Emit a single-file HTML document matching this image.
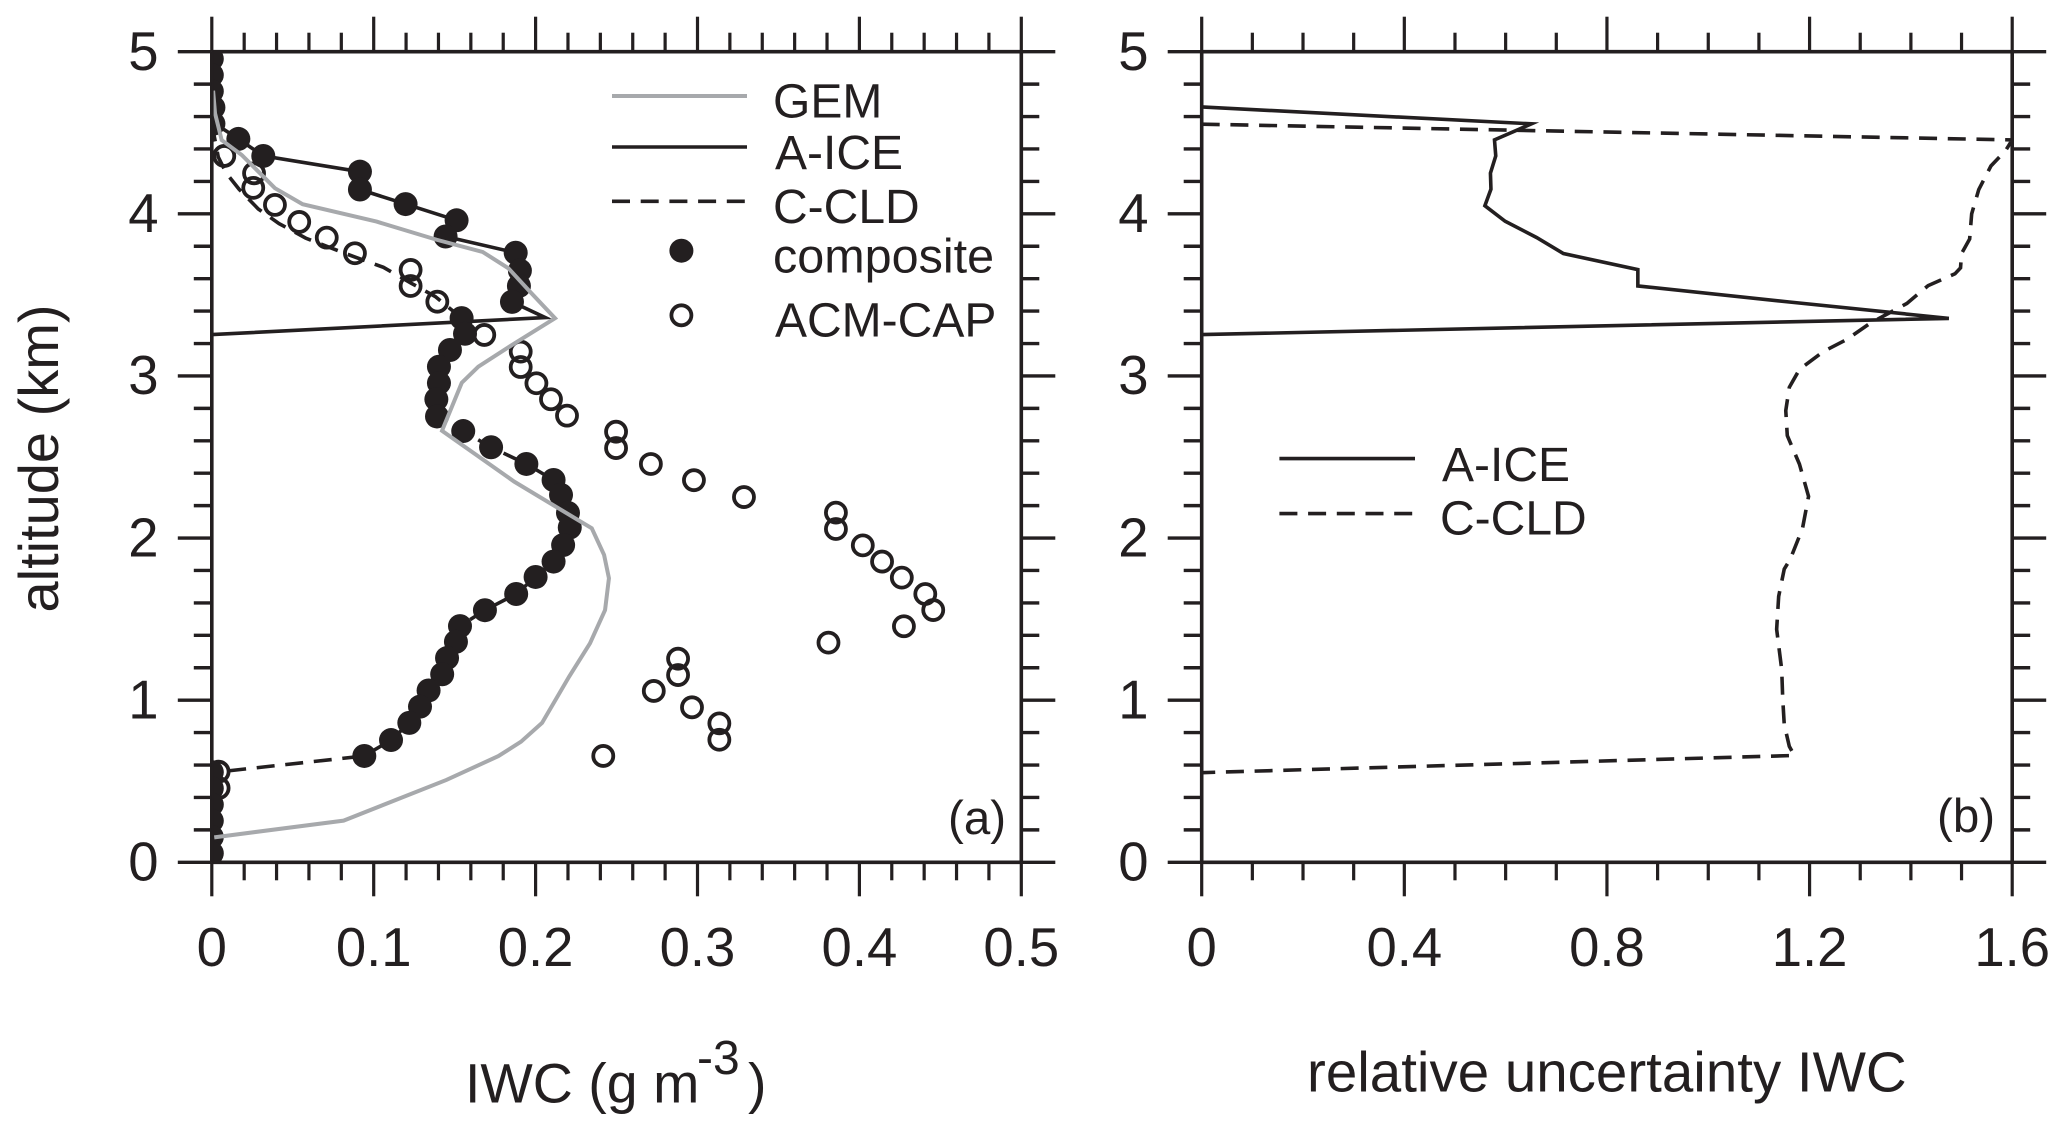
<!DOCTYPE html>
<html lang="en">
<head>
<meta charset="utf-8">
<title>IWC profiles and relative uncertainty</title>
<style>
  html, body { margin: 0; padding: 0; background: #fff; }
  svg { display: block; }
  text { font-family: "Liberation Sans", Arial, sans-serif; fill: #231f20; }
</style>
</head>
<body>
<svg id="chart" xmlns="http://www.w3.org/2000/svg" width="2067" height="1133" viewBox="0 0 2067 1133">
  <defs>
    <clipPath id="clip-a"><rect x="211.8" y="51.7" width="809.5" height="810.6"/></clipPath>
    <clipPath id="clip-b"><rect x="1201.7" y="51.7" width="810.5" height="810.6"/></clipPath>
  </defs>
  <rect width="2067" height="1133" fill="#fff"/>

  <g id="panel-a">
    <g id="series-a" clip-path="url(#clip-a)"></g>
    <g id="axes-a"></g>
    <text transform="translate(58,612.5) rotate(-90)" font-size="56">altitude (km)</text>
    <text x="465" y="1102.5" font-size="55.5">IWC (g m</text>
    <text x="697" y="1074" font-size="48">-3</text>
    <text x="748" y="1102.5" font-size="55.5">)</text>
    <text x="948" y="834" font-size="47.5">(a)</text>
    <g>
      <g>
        <line x1="612" y1="96" x2="747" y2="96" stroke="#a7a9ac" stroke-width="4"/>
        <text x="773" y="117.5" font-size="48">GEM</text>
      </g>
      <g>
        <line x1="612" y1="147" x2="747" y2="147" stroke="#231f20" stroke-width="3.6"/>
        <text x="775" y="169" font-size="48">A-ICE</text>
      </g>
      <g>
        <line x1="612" y1="201.3" x2="747" y2="201.3" stroke="#231f20" stroke-width="3.6" stroke-dasharray="18 10.7"/>
        <text x="773" y="223" font-size="48">C-CLD</text>
      </g>
      <g>
        <circle cx="681.4" cy="250.7" r="12" fill="#231f20"/>
        <text x="773" y="272.7" font-size="48.5">composite</text>
      </g>
      <g>
        <circle cx="681.4" cy="315.3" r="10" fill="none" stroke="#231f20" stroke-width="3.8"/>
        <text x="775" y="336.7" font-size="48">ACM-CAP</text>
      </g>
    </g>
  </g>

  <g id="panel-b">
    <g id="series-b" clip-path="url(#clip-b)"></g>
    <g id="axes-b"></g>
    <text x="1307" y="1091.5" font-size="56.5">relative uncertainty IWC</text>
    <text x="1937" y="832" font-size="47.5">(b)</text>
    <g>
      <g>
        <line x1="1279.4" y1="458.6" x2="1415" y2="458.6" stroke="#231f20" stroke-width="3.6"/>
        <text x="1442" y="481" font-size="48">A-ICE</text>
      </g>
      <g>
        <line x1="1279.4" y1="513.6" x2="1413" y2="513.6" stroke="#231f20" stroke-width="3.6" stroke-dasharray="18 10.7"/>
        <text x="1440" y="534.6" font-size="48">C-CLD</text>
      </g>
    </g>
  </g>
</svg>

<script>
// ---- axis values ----
const altTicks = [0, 1, 2, 3, 4, 5];
const altTickLabels = ['0', '1', '2', '3', '4', '5'];
const altMinorTicks = [0.2, 0.4, 0.6, 0.8, 1.2, 1.4, 1.6, 1.8, 2.2, 2.4, 2.6, 2.8, 3.2, 3.4, 3.6, 3.8, 4.2, 4.4, 4.6, 4.8];
const iwcTicks = [0, 0.1, 0.2, 0.3, 0.4, 0.5];
const iwcTickLabels = ['0', '0.1', '0.2', '0.3', '0.4', '0.5'];
const iwcMinorTicks = [0.02, 0.04, 0.06, 0.08, 0.12, 0.14, 0.16, 0.18, 0.22, 0.24, 0.26, 0.28, 0.32, 0.34, 0.36, 0.38, 0.42, 0.44, 0.46, 0.48];
const uncTicks = [0, 0.4, 0.8, 1.2, 1.6];
const uncTickLabels = ['0', '0.4', '0.8', '1.2', '1.6'];
const uncMinorTicks = [0.1, 0.2, 0.3, 0.5, 0.6, 0.7, 0.9, 1.0, 1.1, 1.3, 1.4, 1.5];

// ---- panel (a) series ----
const compositeAlt = [4.956, 4.856, 4.756, 4.656, 4.556, 4.462, 4.357, 4.26, 4.15, 4.06, 3.96, 3.86, 3.76, 3.65, 3.555, 3.457, 3.357, 3.26, 3.16, 3.057, 2.956, 2.856, 2.75, 2.66, 2.56, 2.457, 2.358, 2.266, 2.155, 2.065, 1.957, 1.855, 1.76, 1.655, 1.555, 1.457, 1.36, 1.26, 1.16, 1.06, 0.96, 0.86, 0.754, 0.656, 0.556, 0.456, 0.356, 0.256, 0.156, 0.056];
const compositeIwc = [0, 0, 0, 0.001, 0.001, 0.0164, 0.0318, 0.0915, 0.0915, 0.1197, 0.1512, 0.1444, 0.1877, 0.1903, 0.1897, 0.1854, 0.1543, 0.1564, 0.1471, 0.1403, 0.1403, 0.1387, 0.1391, 0.1553, 0.1725, 0.1943, 0.2111, 0.2157, 0.22, 0.2211, 0.217, 0.2111, 0.2, 0.188, 0.1687, 0.1533, 0.1508, 0.1453, 0.1423, 0.1339, 0.1286, 0.122, 0.1107, 0.0942, 0, 0, 0, 0, 0, 0];

const acmCapAlt = [4.357, 4.25, 4.16, 4.055, 3.95, 3.853, 3.757, 3.654, 3.555, 3.458, 3.253, 3.15, 3.055, 2.955, 2.856, 2.755, 2.656, 2.555, 2.457, 2.357, 2.253, 2.157, 2.056, 1.955, 1.855, 1.756, 1.655, 1.556, 1.456, 1.355, 1.256, 1.155, 1.057, 0.956, 0.857, 0.756, 0.656, 0.559, 0.458];
const acmCapIwc = [0.0077, 0.0261, 0.0256, 0.039, 0.054, 0.071, 0.0884, 0.1228, 0.1228, 0.1393, 0.1683, 0.1908, 0.1908, 0.2005, 0.2095, 0.2194, 0.2497, 0.2497, 0.2712, 0.2978, 0.3287, 0.3855, 0.3855, 0.4021, 0.414, 0.4262, 0.4407, 0.4456, 0.4275, 0.3809, 0.288, 0.288, 0.273, 0.2966, 0.3135, 0.3135, 0.2418, 0.0042, 0.0042];

const aIceAlt = [3.255, 3.36, 3.457, 3.555, 3.65, 3.76, 3.86, 3.96, 4.06, 4.15, 4.26, 4.357, 4.462, 4.556, 4.656];
const aIceIwc = [0, 0.206, 0.1854, 0.1897, 0.1903, 0.1877, 0.1444, 0.1512, 0.1197, 0.0915, 0.0915, 0.0318, 0.0164, 0.002, 0];

const cCldAlt = [4.556, 4.35, 4.25, 4.15, 4.03, 3.94, 3.85, 3.757, 3.67, 3.57, 3.49, 3.357, 3.26, 3.16, 3.057, 2.956, 2.856, 2.75, 2.66, 2.56, 2.457, 2.358, 2.266, 2.155, 2.065, 1.957, 1.855, 1.76, 1.655, 1.555, 1.457, 1.36, 1.26, 1.16, 1.06, 0.96, 0.86, 0.754, 0.656, 0.553];
const cCldIwc = [0, 0.004, 0.009, 0.017, 0.0287, 0.0415, 0.058, 0.082, 0.106, 0.1235, 0.138, 0.1543, 0.1564, 0.1471, 0.1403, 0.1403, 0.1387, 0.1391, 0.1553, 0.1725, 0.1943, 0.2111, 0.2157, 0.22, 0.2211, 0.217, 0.2111, 0.2, 0.188, 0.1687, 0.1533, 0.1508, 0.1453, 0.1423, 0.1339, 0.1286, 0.122, 0.1107, 0.0942, 0];

const gemAlt = [4.76, 4.62, 4.455, 4.363, 4.158, 4.059, 3.952, 3.84, 3.765, 3.664, 3.52, 3.356, 3.203, 3.057, 2.958, 2.662, 2.348, 2.06, 1.896, 1.752, 1.556, 1.351, 1.145, 0.86, 0.744, 0.655, 0.508, 0.257, 0.154];
const gemIwc = [0.0008, 0.002, 0.0061, 0.0185, 0.039, 0.0561, 0.1018, 0.1389, 0.1673, 0.1832, 0.1965, 0.212, 0.1873, 0.1646, 0.1544, 0.1422, 0.1868, 0.2347, 0.2423, 0.2453, 0.2429, 0.2336, 0.2207, 0.204, 0.191, 0.177, 0.1449, 0.0814, 0.0015];

// ---- panel (b) series ----
const uncAIceAlt = [4.659, 4.555, 4.456, 4.357, 4.251, 4.152, 4.05, 3.954, 3.854, 3.755, 3.656, 3.555, 3.456, 3.355, 3.255];
const uncAIceVal = [0, 0.651, 0.578, 0.5805, 0.57, 0.571, 0.559, 0.599, 0.661, 0.714, 0.861, 0.861, 1.16, 1.475, 0];

const uncCCldAlt = [4.553, 4.456, 4.39, 4.295, 4.15, 4.0, 3.845, 3.755, 3.667, 3.63, 3.557, 3.447, 3.326, 3.226, 3.15, 3.04, 2.93, 2.786, 2.632, 2.456, 2.257, 2.059, 1.871, 1.809, 1.64, 1.437, 1.189, 1.008, 0.85, 0.715, 0.659, 0.553];
const uncCCldVal = [0, 1.6, 1.587, 1.558, 1.534, 1.52, 1.516, 1.5, 1.498, 1.487, 1.434, 1.392, 1.32, 1.274, 1.227, 1.18, 1.16, 1.153, 1.156, 1.18, 1.198, 1.186, 1.162, 1.15, 1.139, 1.135, 1.145, 1.147, 1.15, 1.16, 1.17, 0];

// ---- scales ----
const INK = '#231f20';
const yTop = 51.7, yBottom = 862.3;
const xA0 = 211.8, xA1 = 1021.3;
const xB0 = 1201.7, xB1 = 2012.2;
function yAlt(a) { return yBottom - (a / 5) * (yBottom - yTop); }
function xIwc(v) { return xA0 + (v / 0.5) * (xA1 - xA0); }
function xUnc(v) { return xB0 + (v / 1.6) * (xB1 - xB0); }

const SVGNS = 'http://www.w3.org/2000/svg';
function make(tag, parent) {
  const node = document.createElementNS(SVGNS, tag);
  parent.appendChild(node);
  return node;
}
function rule(parent, x1, y1, x2, y2, w) {
  const l = make('line', parent);
  l.setAttribute('x1', x1);
  l.setAttribute('y1', y1);
  l.setAttribute('x2', x2);
  l.setAttribute('y2', y2);
  l.setAttribute('stroke', INK);
  l.setAttribute('stroke-width', w);
  return l;
}
function profile(parent, xs, alts, xScale, color, width, dash) {
  const p = make('polyline', parent);
  p.setAttribute('points', xs.map(function (v, i) { return xScale(v).toFixed(2) + ',' + yAlt(alts[i]).toFixed(2); }).join(' '));
  p.setAttribute('fill', 'none');
  p.setAttribute('stroke', color);
  p.setAttribute('stroke-width', width);
  p.setAttribute('stroke-linejoin', 'miter');
  p.setAttribute('stroke-miterlimit', '12');
  if (dash) p.setAttribute('stroke-dasharray', dash);
  return p;
}

function drawAxes(group, x0, x1, xScale, xTicks, xLabels, xMinor, yLabelX, prefix) {
  const frame = rule(group, x0, yTop, x1, yTop, 3.6);
  
  
  const frameB = rule(group, x0, yBottom, x1, yBottom, 3.6);
  
  
  const frameL = rule(group, x0, yTop, x0, yBottom, 3.6);
  
  
  const frameR = rule(group, x1, yTop, x1, yBottom, 3.6);
  
  

  xTicks.forEach(function (v, i) {
    const x = xScale(v);
    const up = rule(group, x, yTop - 35, x, yTop, 3.2);
    
    
    const down = rule(group, x, yBottom, x, yBottom + 34, 3.2);
    
    
    const label = make('text', group);
    
    
    label.setAttribute('x', x);
    label.setAttribute('y', 966);
    label.setAttribute('font-size', '54.5');
    label.setAttribute('text-anchor', 'middle');
    label.textContent = xLabels[i];
  });
  xMinor.forEach(function (v) {
    const x = xScale(v);
    const up = rule(group, x, yTop - 19, x, yTop, 3.2);
    
    
    const down = rule(group, x, yBottom, x, yBottom + 18, 3.2);
    
    
  });
  altTicks.forEach(function (a, i) {
    const y = yAlt(a);
    const l = rule(group, x0 - 34, y, x0, y, 3.4);
    
    
    const r = rule(group, x1, y, x1 + 34, y, 3.4);
    
    
    const label = make('text', group);
    
    
    label.setAttribute('x', yLabelX);
    label.setAttribute('y', y + 18.3);
    label.setAttribute('font-size', '54.5');
    label.setAttribute('text-anchor', 'end');
    label.textContent = altTickLabels[i];
  });
  altMinorTicks.forEach(function (a) {
    const y = yAlt(a);
    const l = rule(group, x0 - 18, y, x0, y, 3.4);
    
    
    const r = rule(group, x1, y, x1 + 18, y, 3.4);
    
    
  });
}

// ---- panel (a) ----
const seriesA = document.getElementById('series-a');
const lineAIce = profile(seriesA, aIceIwc, aIceAlt, xIwc, INK, 3.6);


const lineCCld = profile(seriesA, cCldIwc, cCldAlt, xIwc, INK, 3.6, '18 10.7');



acmCapIwc.forEach(function (v, i) {
  const c = make('circle', seriesA);
  
  
  c.setAttribute('cx', xIwc(v));
  c.setAttribute('cy', yAlt(acmCapAlt[i]));
  c.setAttribute('r', '10');
  c.setAttribute('fill', 'none');
  c.setAttribute('stroke', INK);
  c.setAttribute('stroke-width', '3.8');
});
compositeIwc.forEach(function (v, i) {
  const c = make('circle', seriesA);
  
  
  c.setAttribute('cx', xIwc(v));
  c.setAttribute('cy', yAlt(compositeAlt[i]));
  c.setAttribute('r', '12');
  c.setAttribute('fill', INK);
});
const lineGem = profile(seriesA, gemIwc, gemAlt, xIwc, '#a7a9ac', 4);



drawAxes(document.getElementById('axes-a'), xA0, xA1, xIwc, iwcTicks, iwcTickLabels, iwcMinorTicks, 158.5, 'panel-a');

// ---- panel (b) ----
const seriesB = document.getElementById('series-b');
const lineUncAIce = profile(seriesB, uncAIceVal, uncAIceAlt, xUnc, INK, 3.6);


const lineUncCCld = profile(seriesB, uncCCldVal, uncCCldAlt, xUnc, INK, 3.6, '18 10.7');



drawAxes(document.getElementById('axes-b'), xB0, xB1, xUnc, uncTicks, uncTickLabels, uncMinorTicks, 1148.5, 'panel-b');
</script>
</body>
</html>
